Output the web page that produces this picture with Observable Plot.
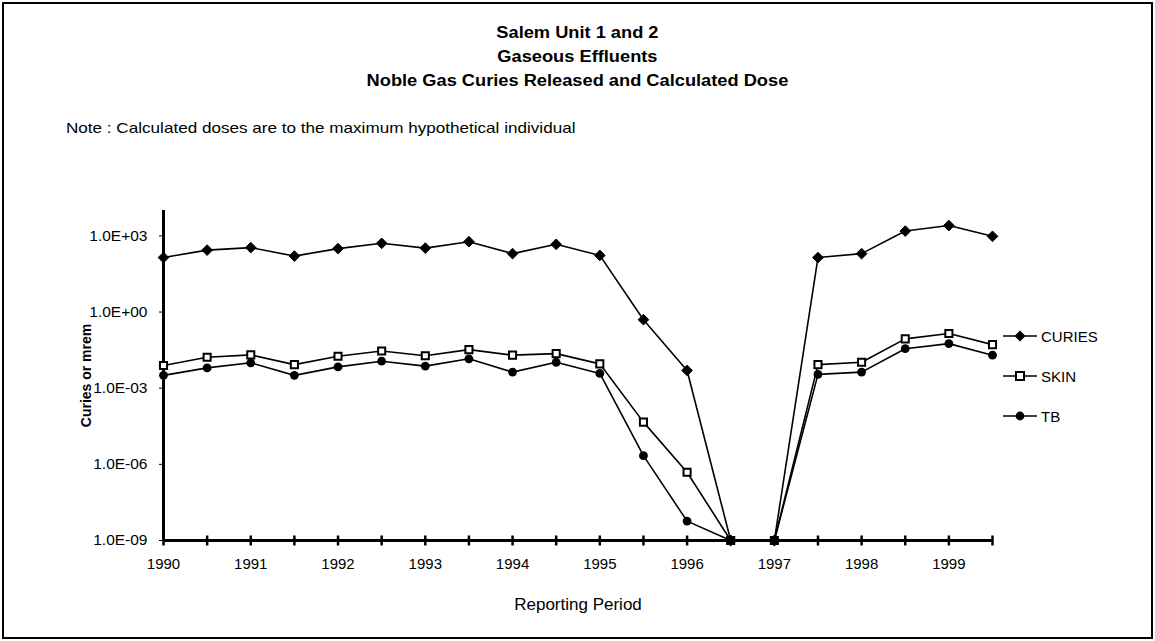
<!DOCTYPE html>
<html>
<head>
<meta charset="utf-8">
<script src="https://cdn.jsdelivr.net/npm/d3@7"></script>
<script src="https://cdn.jsdelivr.net/npm/@observablehq/plot@0.6"></script>
<style>
  html, body { margin: 0; padding: 0; background: #fff; }
  body { width: 1155px; height: 641px; position: relative; overflow: hidden;
         font-family: "Liberation Sans", Arial, sans-serif; color: #000; }
  #frame { position: absolute; left: 2px; top: 2px; width: 1147px; height: 633px;
           border: 2px solid #000; pointer-events: none; }
  .title { position: absolute; left: 0; width: 1155px; text-align: center;
           font-weight: bold; font-size: 16px; line-height: 18px;
           transform: scaleX(1.14); transform-origin: 578px 0; }
  #note { position: absolute; left: 66px; top: 120px; font-size: 15px; line-height: 16px;
          transform: scaleX(1.14); transform-origin: 0 0; white-space: nowrap; }
  #chart { position: absolute; left: 0; top: 150px; }
  #chart svg { overflow: visible; }
  #chart g[aria-label="y-axis label"] text { font-weight: bold; font-size: 14px; }
  #chart g[aria-label="x-axis label"] text { font-size: 17px; }
  .leg { position: absolute; left: 1003px; height: 16px; display: flex; align-items: center;
         font-size: 15px; }
  .leg svg { margin-right: 4px; }
</style>
</head>
<body>
<div class="title" style="top:24px">Salem Unit 1 and 2</div>
<div class="title" style="top:48px">Gaseous Effluents</div>
<div class="title" style="top:72px">Noble Gas Curies Released and Calculated Dose</div>
<div id="note">Note : Calculated doses are to the maximum hypothetical individual</div>
<div id="chart"></div>
<div id="legend"></div>
<div id="frame"></div>
<script>
// ---- data ----
const periods = [1990, 1990.5, 1991, 1991.5, 1992, 1992.5, 1993, 1993.5, 1994, 1994.5,
                 1995, 1995.5, 1996, 1996.5, 1997, 1997.5, 1998, 1998.5, 1999, 1999.5];
const curies = [140, 275, 345, 160, 315, 510, 330, 590, 200, 465,
                170, 0.5, 0.005, 1e-9, 1e-9, 140, 200, 1550, 2550, 960];
const skin = [0.0078, 0.0166, 0.0205, 0.0085, 0.018, 0.029, 0.019, 0.033, 0.020, 0.023,
              0.0091, 4.6e-5, 4.9e-7, 1e-9, 1e-9, 0.0085, 0.0105, 0.088, 0.142, 0.052];
const tb = [0.0032, 0.0063, 0.010, 0.0032, 0.0069, 0.0116, 0.0074, 0.0144, 0.0043, 0.0105,
            0.0038, 2.2e-6, 5.8e-9, 1e-9, 1e-9, 0.0035, 0.0043, 0.036, 0.057, 0.020];
const seriesNames = ["CURIES", "SKIN", "TB"];
const yTicks = [1e3, 1e0, 1e-3, 1e-6, 1e-9];
const xTickYears = [1990, 1991, 1992, 1993, 1994, 1995, 1996, 1997, 1998, 1999];
const yDomain = [1e-9, 1e4];
const xDomain = [1990, 1999.5];

const valuesBySeries = {CURIES: curies, SKIN: skin, TB: tb};
const rows = seriesNames.flatMap(s => periods.map((p, i) => ({series: s, period: p, value: valuesBySeries[s][i]})));
const baseTicks = periods.map(p => ({period: p, value: yDomain[0]}));

const fmtE = v => {
  const e = Math.round(Math.log10(v));
  return "1.0E" + (e < 0 ? "-" : "+") + String(Math.abs(e)).padStart(2, "0");
};

const vTick = { draw(ctx) { ctx.moveTo(0, -5); ctx.lineTo(0, 5); } };

const style = {stroke: "#000", strokeWidth: 1.6};
const chart = Plot.plot({
  width: 1155, height: 491,
  marginLeft: 163, marginRight: 163, marginTop: 60, marginBottom: 101,
  style: {fontFamily: "'Liberation Sans', Arial, sans-serif", fontSize: "13px", color: "#000", background: "transparent"},
  x: {domain: xDomain},
  y: {type: "log", domain: yDomain},
  marks: [
    Plot.axisY({ticks: yTicks, tickFormat: fmtE, tickSize: 4, tickPadding: 12, fontSize: 15.5,
                label: "Curies or mrem", labelAnchor: "center", labelOffset: 82, labelArrow: "none"}),
    Plot.axisX({ticks: xTickYears, tickFormat: d => String(d), tickSize: 0, tickPadding: 18, fontSize: 15,
                label: "Reporting Period", labelAnchor: "center", labelOffset: 69, labelArrow: "none"}),
    Plot.ruleX([xDomain[0]], {stroke: "#000", strokeWidth: 3}),
    Plot.ruleY([yDomain[0]], {stroke: "#000", strokeWidth: 3}),
    Plot.dot(baseTicks, {x: "period", y: "value", symbol: vTick, stroke: "#000", strokeWidth: 2.5, fill: "none"}),
    Plot.line(rows.filter(d => d.series === "CURIES"), {x: "period", y: "value", ...style}),
    Plot.line(rows.filter(d => d.series === "SKIN"), {x: "period", y: "value", ...style}),
    Plot.line(rows.filter(d => d.series === "TB"), {x: "period", y: "value", ...style}),
    Plot.dot(rows.filter(d => d.series === "CURIES"), {x: "period", y: "value", symbol: "diamond2", r: 4.8, fill: "#000", stroke: "#000", strokeWidth: 1}),
    Plot.dot(rows.filter(d => d.series === "SKIN"), {x: "period", y: "value", symbol: "square", r: 4, fill: "#fff", stroke: "#000", strokeWidth: 2}),
    Plot.dot(rows.filter(d => d.series === "TB"), {x: "period", y: "value", symbol: "circle", r: 4.4, fill: "#000"})
  ]
});
document.getElementById("chart").appendChild(chart);

// ---- legend ----
const legendY = {CURIES: 328, SKIN: 368, TB: 408};
const legend = document.getElementById("legend");
const markerSvg = {
  CURIES: '<path d="M17,2.5 L22.5,8 L17,13.5 L11.5,8 Z" fill="#000"/>',
  SKIN: '<rect x="13" y="4" width="8" height="8" fill="#fff" stroke="#000" stroke-width="2"/>',
  TB: '<circle cx="17" cy="8" r="4.4" fill="#000"/>'
};
seriesNames.forEach(s => {
  const div = document.createElement("div");
  div.className = "leg";
  div.style.top = legendY[s] + "px";
  div.innerHTML = '<svg width="34" height="16"><line x1="0" y1="8" x2="34" y2="8" stroke="#000" stroke-width="1.6"/>' +
    markerSvg[s] + '</svg><span>' + s + '</span>';
  legend.appendChild(div);
});
</script>
</body>
</html>
